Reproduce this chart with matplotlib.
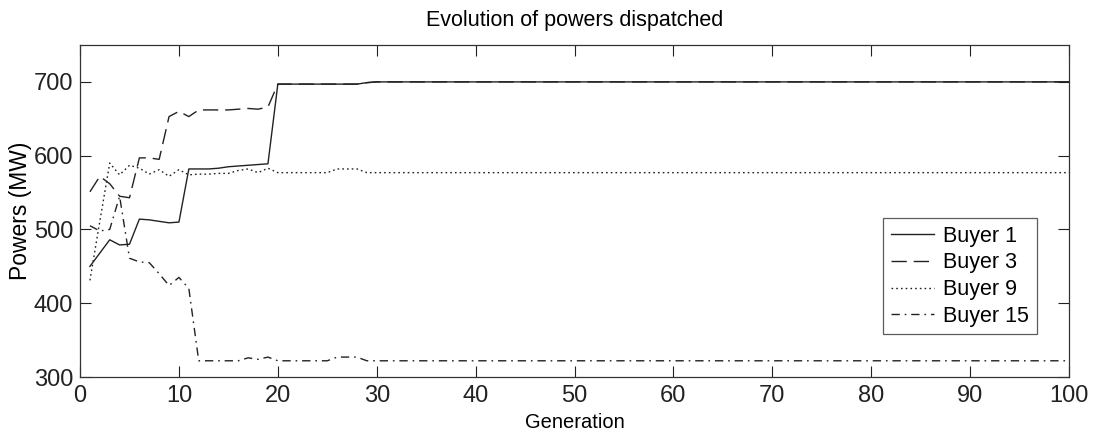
import matplotlib
matplotlib.use("Agg")
import matplotlib.pyplot as plt

generations = list(range(1, 101))

buyer1 = [450, 468, 486, 479, 480, 514, 513, 511, 509, 510,
          582, 582, 582, 583, 585, 586, 587, 588, 589, 697,
          697, 697, 697, 697, 697, 697, 697, 697, 699, 700,
          700, 700, 700, 700, 700, 700, 700, 700, 700, 700,
          700, 700, 700, 700, 700, 700, 700, 700, 700, 700,
          700, 700, 700, 700, 700, 700, 700, 700, 700, 700,
          700, 700, 700, 700, 700, 700, 700, 700, 700, 700,
          700, 700, 700, 700, 700, 700, 700, 700, 700, 700,
          700, 700, 700, 700, 700, 700, 700, 700, 700, 700,
          700, 700, 700, 700, 700, 700, 700, 700, 700, 700]

buyer3 = [551, 572, 562, 545, 543, 597, 597, 595, 653, 660,
          653, 662, 662, 662, 662, 663, 664, 663, 666, 697,
          697, 697, 697, 697, 697, 697, 697, 697, 699, 700,
          700, 700, 700, 700, 700, 700, 700, 700, 700, 700,
          700, 700, 700, 700, 700, 700, 700, 700, 700, 700,
          700, 700, 700, 700, 700, 700, 700, 700, 700, 700,
          700, 700, 700, 700, 700, 700, 700, 700, 700, 700,
          700, 700, 700, 700, 700, 700, 700, 700, 700, 700,
          700, 700, 700, 700, 700, 700, 700, 700, 700, 700,
          700, 700, 700, 700, 700, 700, 700, 700, 700, 700]

buyer9 = [431, 511, 590, 574, 587, 583, 575, 581, 572, 581,
          574, 575, 575, 576, 576, 580, 582, 577, 583, 577,
          577, 577, 577, 577, 577, 582, 582, 582, 577, 577,
          577, 577, 577, 577, 577, 577, 577, 577, 577, 577,
          577, 577, 577, 577, 577, 577, 577, 577, 577, 577,
          577, 577, 577, 577, 577, 577, 577, 577, 577, 577,
          577, 577, 577, 577, 577, 577, 577, 577, 577, 577,
          577, 577, 577, 577, 577, 577, 577, 577, 577, 577,
          577, 577, 577, 577, 577, 577, 577, 577, 577, 577,
          577, 577, 577, 577, 577, 577, 577, 577, 577, 577]

buyer15 = [505, 498, 500, 545, 461, 456, 455, 440, 424, 435,
           420, 322, 322, 322, 322, 322, 326, 324, 327, 322,
           322, 322, 322, 322, 322, 327, 327, 327, 322, 322,
           322, 322, 322, 322, 322, 322, 322, 322, 322, 322,
           322, 322, 322, 322, 322, 322, 322, 322, 322, 322,
           322, 322, 322, 322, 322, 322, 322, 322, 322, 322,
           322, 322, 322, 322, 322, 322, 322, 322, 322, 322,
           322, 322, 322, 322, 322, 322, 322, 322, 322, 322,
           322, 322, 322, 322, 322, 322, 322, 322, 322, 322,
           322, 322, 322, 322, 322, 322, 322, 322, 322, 322]

labels = ["Buyer 1", "Buyer 3", "Buyer 9", "Buyer 15"]
x_ticks = [0, 10, 20, 30, 40, 50, 60, 70, 80, 90, 100]
y_ticks = [300, 400, 500, 600, 700]

plt.rcParams["font.family"] = ["Liberation Sans", "DejaVu Sans"]

fig = plt.figure(figsize=(10.98, 4.34), dpi=100)
ax = fig.add_axes([0.0729, 0.1313, 0.9007, 0.765])

ax.plot(generations, buyer1, color="#222222", lw=1.0, linestyle="-", label=labels[0])
ax.plot(generations, buyer3, color="#222222", lw=1.0, linestyle=(0, (11, 5)), label=labels[1])
ax.plot(generations, buyer9, color="#222222", lw=1.0, linestyle=(0, (1.2, 2.2)), label=labels[2])
ax.plot(generations, buyer15, color="#222222", lw=1.0, linestyle=(0, (6, 3.5, 1.2, 3.5)), label=labels[3])

ax.set_xlim(0, 100)
ax.set_ylim(300, 750)
ax.set_xticks(x_ticks)
ax.set_yticks(y_ticks)
ax.tick_params(direction="in", length=8, width=0.8, top=True, right=True,
               labelsize=17, colors="#222222")
ax.tick_params(axis="x", pad=6)
ax.tick_params(axis="y", pad=5)
for s in ax.spines.values():
    s.set_linewidth(0.9)
    s.set_color("#333333")

ax.set_title("Evolution of powers dispatched", fontsize=15.5, pad=14)
ax.set_xlabel("Generation", fontsize=14.5, labelpad=4)
ax.set_ylabel("Powers (MW)", fontsize=16.5, labelpad=1)

leg = ax.legend(loc="upper left", bbox_to_anchor=(0.812, 0.479), fontsize=15.5,
                frameon=True, fancybox=False, edgecolor="#333333",
                handlelength=2.0, handletextpad=0.45, labelspacing=0.27,
                borderpad=0.35, borderaxespad=0)
leg.get_frame().set_linewidth(0.9)

fig.savefig("out.png", dpi=100)
